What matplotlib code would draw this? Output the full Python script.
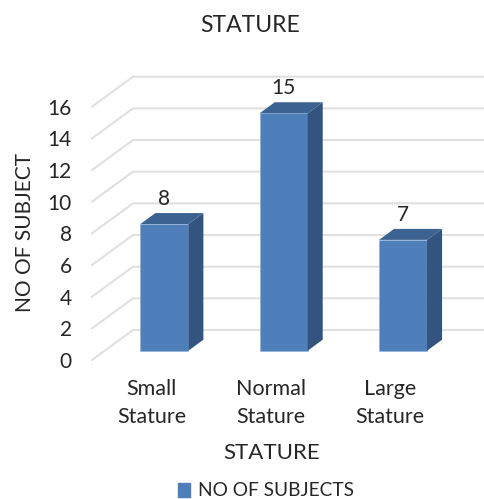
import numpy as np
import matplotlib
matplotlib.use("Agg")
import matplotlib.pyplot as plt
from matplotlib.patches import Patch

categories = ["Small\nStature", "Normal\nStature", "Large\nStature"]
subjects = [8, 15, 7]
y_ticks = [0, 2, 4, 6, 8, 10, 12, 14, 16]

W, H = 485, 499
plt.rcParams["font.family"] = ["Lato", "DejaVu Sans"]
TEXT = "#262626"

fig = plt.figure(figsize=(W / 100, H / 100), dpi=100)
# front plane of the fake 3D box, in pixels
left, right, top, bottom = 92, 450, 106.7, 360
ax = fig.add_axes([left / W, 1 - bottom / H, (right - left) / W, (bottom - top) / H])
ax.set_xlim(-0.5, 2.5)
ax.set_ylim(0, 16)

# depth direction in data units (41 px across, 30 px up for the full box depth)
dx = 41 / ((right - left) / 3)
dy = 30 / ((bottom - top) / 16)


def proj(x, v, z):
    return x + z * dx, v + z * dy


# gridlines: slanted floor/wall part, then along the back wall
for v in y_ticks:
    x0, y0 = proj(-0.5, v, 0)
    x1, y1 = proj(-0.5, v, 1)
    x2, y2 = proj(2.5, v, 1)
    ax.plot([x0, x1, x2], [y0, y1, y2], color="#E0E0E0", lw=1.5, clip_on=False, zorder=1)

# bars
width = 48 / ((right - left) / 3)
z_front, z_back = 0.31, 0.676
for i, v in enumerate(subjects):
    xl, xr = i - width / 2, i + width / 2
    fx0, fy0 = proj(xl, 0, z_front)
    ax.bar(fx0, v, width, bottom=fy0, align="edge", color="#4E7FBB",
           edgecolor="#8FAFD6", linewidth=0.4, clip_on=False, zorder=3)
    side = [proj(xr, 0, z_front), proj(xr, 0, z_back), proj(xr, v, z_back), proj(xr, v, z_front)]
    ax.fill(*zip(*side), color="#32547E", lw=0, clip_on=False, zorder=3)
    roof = [proj(xl, v, z_front), proj(xr, v, z_front), proj(xr, v, z_back), proj(xl, v, z_back)]
    ax.fill(*zip(*roof), color="#3C6291", lw=0, clip_on=False, zorder=3)
    # value label sits above the roof, centred on the bar front
    lx, ly = proj(i, v, z_back)
    ax.annotate(str(v), (proj(i, v, z_front)[0], ly), xytext=(0, 14), textcoords="offset pixels",
                ha="center", va="center", fontsize=15, color=TEXT, annotation_clip=False, zorder=4)

ax.set_yticks(y_ticks)
ax.set_xticks(range(len(categories)))
ax.set_xticklabels(categories, linespacing=1.5)
ax.tick_params(axis="both", length=0, labelcolor=TEXT)
ax.tick_params(axis="y", pad=14.5, labelsize=15)
ax.tick_params(axis="x", pad=13.5, labelsize=15.5)
for s in ax.spines.values():
    s.set_visible(False)
ax.patch.set_visible(False)

fig.text(250 / W, 1 - 25 / H, "STATURE", ha="center", va="center", fontsize=16.5, color=TEXT)
fig.text(272 / W, 1 - 453 / H, "STATURE", ha="center", va="center", fontsize=16, color=TEXT)
fig.text(25 / W, 1 - 233 / H, "NO OF SUBJECT", rotation=90, ha="center", va="center", fontsize=15, color=TEXT)

fig.legend(handles=[Patch(color="#4E7FBB", label="NO OF SUBJECTS")], loc="center",
           bbox_to_anchor=(266 / W, 1 - 491 / H), frameon=False, fontsize=13.8, labelcolor=TEXT,
           handlelength=0.62, handleheight=0.72, handletextpad=0.4, borderpad=0, borderaxespad=0)

fig.savefig("out.png", dpi=100)
